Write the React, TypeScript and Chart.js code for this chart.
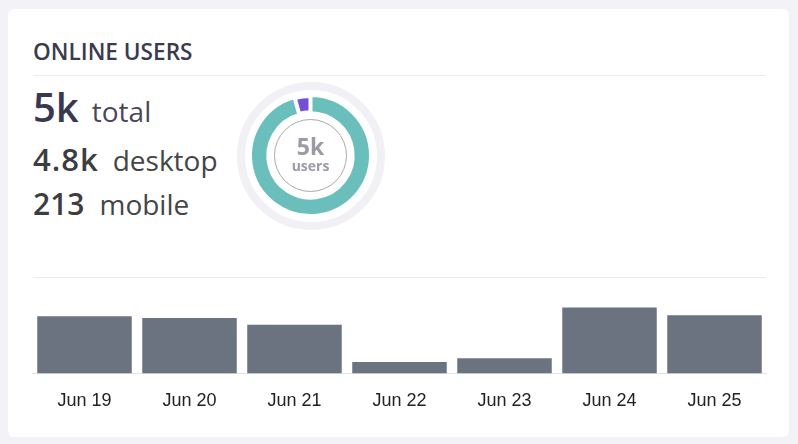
import React, { useEffect, useRef } from "react";
import { Chart, registerables } from "chart.js";

Chart.register(...registerables);

// ---- data ----
const titleText = "ONLINE USERS";
const statValues = ["5k", "4.8k", "213"];
const statLabels = ["total", "desktop", "mobile"];
const centerValue = "5k";
const centerLabel = "users";
const deviceLabels = ["desktop", "mobile"];
const deviceUsers = [4800, 213];
const dayLabels = ["Jun 19", "Jun 20", "Jun 21", "Jun 22", "Jun 23", "Jun 24", "Jun 25"];
const dailyUsers = [60, 58, 51, 12, 16, 69, 61];
const dailyMax = 100;

const FONT = "'Open Sans', 'Noto Sans', sans-serif";

function DoughnutChart() {
  const ref = useRef<HTMLCanvasElement | null>(null);
  useEffect(() => {
    if (!ref.current) return;
    const chart = new Chart(ref.current, {
      type: "doughnut",
      data: {
        labels: deviceLabels,
        datasets: [
          {
            data: deviceUsers,
            backgroundColor: ["#6abfbc", "#7450d5"],
            borderColor: "#ffffff",
            borderWidth: [2, 4],
            hoverOffset: 0,
          },
        ],
      },
      options: {
        animation: false,
        responsive: false,
        devicePixelRatio: 1,
        radius: 59.5,
        cutout: "72.5%",
        layout: { padding: 0 },
        plugins: { legend: { display: false }, tooltip: { enabled: false } },
      },
    });
    return () => chart.destroy();
  }, []);
  return (
    <canvas
      ref={ref}
      width={161}
      height={161}
      style={{ position: "absolute", left: 230, top: 75, width: 161, height: 161 }}
    />
  );
}

function BarChart() {
  const ref = useRef<HTMLCanvasElement | null>(null);
  useEffect(() => {
    if (!ref.current) return;
    const chart = new Chart(ref.current, {
      type: "bar",
      data: {
        labels: dayLabels,
        datasets: [
          {
            data: dailyUsers,
            backgroundColor: "#6b7280",
            borderWidth: 0,
            barPercentage: 0.9,
            categoryPercentage: 1,
          },
        ],
      },
      options: {
        animation: false,
        responsive: false,
        devicePixelRatio: 1,
        layout: { padding: 0 },
        plugins: { legend: { display: false }, tooltip: { enabled: false } },
        scales: {
          x: {
            grid: { display: false, drawTicks: false },
            border: { display: true, color: "#e3e3e6", width: 1 },
            ticks: {
              color: "#222222",
              padding: 16.5,
              font: { family: "'Liberation Sans', Arial, sans-serif", size: 18 },
            },
          },
          y: {
            display: false,
            min: 0,
            max: dailyMax,
          },
        },
      },
    });
    return () => chart.destroy();
  }, []);
  return (
    <canvas
      ref={ref}
      width={735}
      height={150}
      style={{ position: "absolute", left: 32, top: 278, width: 735, height: 150 }}
    />
  );
}

const statTops = [86.5, 143.9, 189.4];
const statValueSizes = [40, 31, 30];
const statValueSpacing = [0, 1, 0];
const statLabelGaps = [13, 14, 15];
const statValueColors = ["#3a3850", "#3d3d3f", "#3d3d3f"];
const statLabelColors = ["#48475a", "#454547", "#454547"];

export default function App() {
  return (
    <div
      style={{
        position: "fixed",
        left: 0,
        top: 0,
        width: 798,
        height: 444,
        background: "#f3f2f7",
        fontFamily: FONT,
        overflow: "hidden",
      }}
    >
      <div
        style={{
          position: "absolute",
          left: 8,
          top: 9,
          width: 781,
          height: 428,
          background: "#ffffff",
          borderRadius: 6,
        }}
      />
      <div
        style={{
          position: "absolute",
          left: 33,
          top: 41,
          fontSize: 22.6,
          lineHeight: "22.6px",
          fontWeight: 600,
          color: "#3b3a4f",
          whiteSpace: "nowrap",
        }}
      >
        {titleText}
      </div>
      <div style={{ position: "absolute", left: 33, top: 75, width: 733, height: 1, background: "#ebebef" }} />
      {statValues.map((v, i) => (
        <div
          key={i}
          style={{
            position: "absolute",
            left: 33,
            top: statTops[i],
            display: "flex",
            alignItems: "baseline",
            whiteSpace: "nowrap",
            lineHeight: 1,
          }}
        >
          <span
            style={{
              fontSize: statValueSizes[i],
              fontWeight: 600,
              color: statValueColors[i],
              letterSpacing: statValueSpacing[i],
            }}
          >
            {v}
          </span>
          <span style={{ fontSize: 28, fontWeight: 400, color: statLabelColors[i], marginLeft: statLabelGaps[i] }}>
            {statLabels[i]}
          </span>
        </div>
      ))}
      {/* doughnut decorations */}
      <div
        style={{
          position: "absolute",
          left: 236.5,
          top: 81.5,
          width: 148,
          height: 148,
          boxSizing: "border-box",
          borderRadius: "50%",
          border: "8px solid #f1f0f5",
        }}
      />
      <DoughnutChart />
      <div
        style={{
          position: "absolute",
          left: 274,
          top: 119,
          width: 73,
          height: 73,
          boxSizing: "border-box",
          borderRadius: "50%",
          border: "1.5px solid #a9a9ad",
        }}
      />
      <div
        style={{
          position: "absolute",
          left: 230,
          top: 135,
          width: 161,
          textAlign: "center",
          fontSize: 23,
          lineHeight: 1,
          fontWeight: 700,
          color: "#9b9aa6",
        }}
      >
        {centerValue}
      </div>
      <div
        style={{
          position: "absolute",
          left: 230,
          top: 158.6,
          width: 161,
          textAlign: "center",
          fontSize: 14,
          lineHeight: 1,
          fontWeight: 700,
          color: "#9b9aa6",
        }}
      >
        {centerLabel}
      </div>
      <div style={{ position: "absolute", left: 33, top: 277, width: 733, height: 1, background: "#ebebef" }} />
      <BarChart />
    </div>
  );
}
